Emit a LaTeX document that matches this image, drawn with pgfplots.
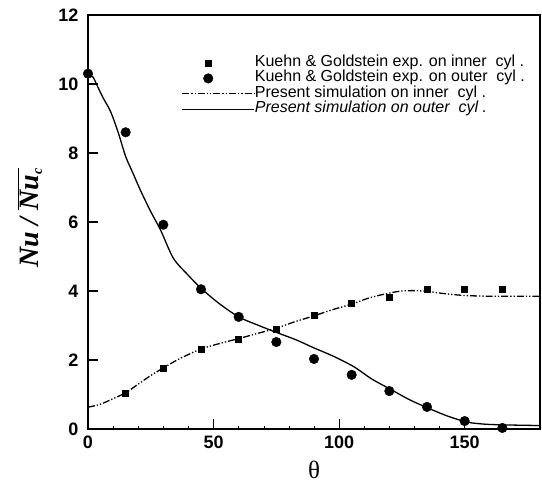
\documentclass[border=0pt]{standalone}
\usepackage{pgfplots}
\pgfplotsset{compat=1.18}
\usepackage{fontspec}
\setmainfont{Liberation Sans}
\newfontfamily\serifit{Liberation Serif}
\pgfplotsset{marklegend/.style={legend image code/.code={\path (0pt,0pt) (72pt,0pt); \draw[##1] plot coordinates {(26pt,0pt)};}}}
\begin{document}
\begin{tikzpicture}
\begin{axis}[
  at={(0pt,0pt)}, anchor=south west,
  scale only axis, width=452pt, height=414pt,
  xmin=0, xmax=180, ymin=0, ymax=12,
  xtick={0,50,100,150}, ytick={0,2,4,6,8,10,12},
  minor x tick num=4,
  tick pos=left, tick align=inside,
  major tick length=10pt, minor tick length=3pt,
  axis line style={line width=1.6pt},
  every tick/.style={line width=1.2pt, black},
  minor tick style={line width=0.5pt},
  /pgf/number format/assume math mode=true,
  ticklabel style={font=\fontsize{18}{18}\selectfont\bfseries},
  xticklabel style={yshift=-3pt},
  yticklabel style={xshift=-6pt},
  xlabel={{\serifit\fontsize{25}{25}\selectfont θ}},
  xlabel style={at={(axis description cs:0.5,0)}, anchor=center, yshift=-41pt, inner sep=0pt},
  ylabel={{\serifit\bfseries\itshape\fontsize{28}{28}\selectfont Nu / $\overline{\mbox{\serifit\bfseries\itshape Nu}_{\mbox{\serifit\itshape\fontsize{14}{14}\selectfont c}}}$}},
  ylabel style={at={(axis description cs:0,0.51)}, anchor=center, yshift=58pt},
  clip mode=individual,
  legend cell align=left,
  legend style={at={(rel axis cs:0.2,0.905)}, anchor=north west, draw=none, fill=none,
    font=\fontsize{16}{16}\selectfont, row sep=2.4pt,
    nodes={inner sep=0pt, text height=10pt, text depth=3pt}},
  legend image code/.code={\draw[#1] (0pt,0pt) -- (72pt,0pt);},
  /tikz/every even column/.append style={column sep=5pt},
]
\addplot[only marks, mark=square*, mark size=3pt, black, marklegend] coordinates {
(15,1.04)(30,1.77)(45,2.32)(60,2.61)(75,2.9)(90,3.3)(105,3.65)(120,3.83)(135,4.06)(150,4.06)(165,4.06)};
\addlegendentry{Kuehn \& Goldstein exp. on inner\ \ cyl .}
\addplot[only marks, mark=*, mark size=4.8pt, black, marklegend] coordinates {
(0,10.3)(15,8.6)(30,5.92)(45,4.05)(60,3.25)(75,2.52)(90,2.03)(105,1.57)(120,1.1)(135,0.64)(150,0.23)(165,0.03)};
\addlegendentry{Kuehn \& Goldstein exp. on outer\ \ cyl .}
\addplot[black, line width=1.3pt, smooth, dash pattern=on 7pt off 2pt on 1.3pt off 2pt on 1.3pt off 2pt] coordinates {
(0,0.63)(5,0.72)(10,0.88)(15,1.05)(20,1.3)(25,1.55)(30,1.77)(35,1.98)(40,2.16)(45,2.32)(52,2.47)(60,2.62)(67,2.76)(75,2.92)(82,3.1)(90,3.28)(97,3.45)(105,3.62)(112,3.8)(120,3.94)(125,4.0)(130,4.01)(135,3.99)(140,3.94)(145,3.9)(150,3.87)(158,3.85)(165,3.85)(172,3.85)(180,3.85)};
\addlegendentry{Present simulation on inner\ \ cyl .}
\addplot[black, line width=1.3pt, smooth] coordinates {
(0,10.3)(2,10.2)(4,9.9)(6,9.6)(9,9.2)(12,8.6)(15,7.9)(18,7.4)(21,6.9)(25,6.3)(29,5.75)(34,4.95)(40,4.45)(45,4.08)(52,3.65)(60,3.25)(68,3.0)(75,2.8)(83,2.58)(90,2.35)(98,2.1)(106,1.8)(113,1.45)(121,1.13)(128,0.85)(135,0.62)(143,0.38)(151,0.2)(158,0.14)(165,0.12)(172,0.11)(180,0.1)};
\addlegendentry{\itshape Present simulation on outer\ \ cyl .}
\end{axis}
\pgfresetboundingbox
\path[use as bounding box] (-88pt,-55pt) rectangle (454pt,429pt);
\end{tikzpicture}
\end{document}
